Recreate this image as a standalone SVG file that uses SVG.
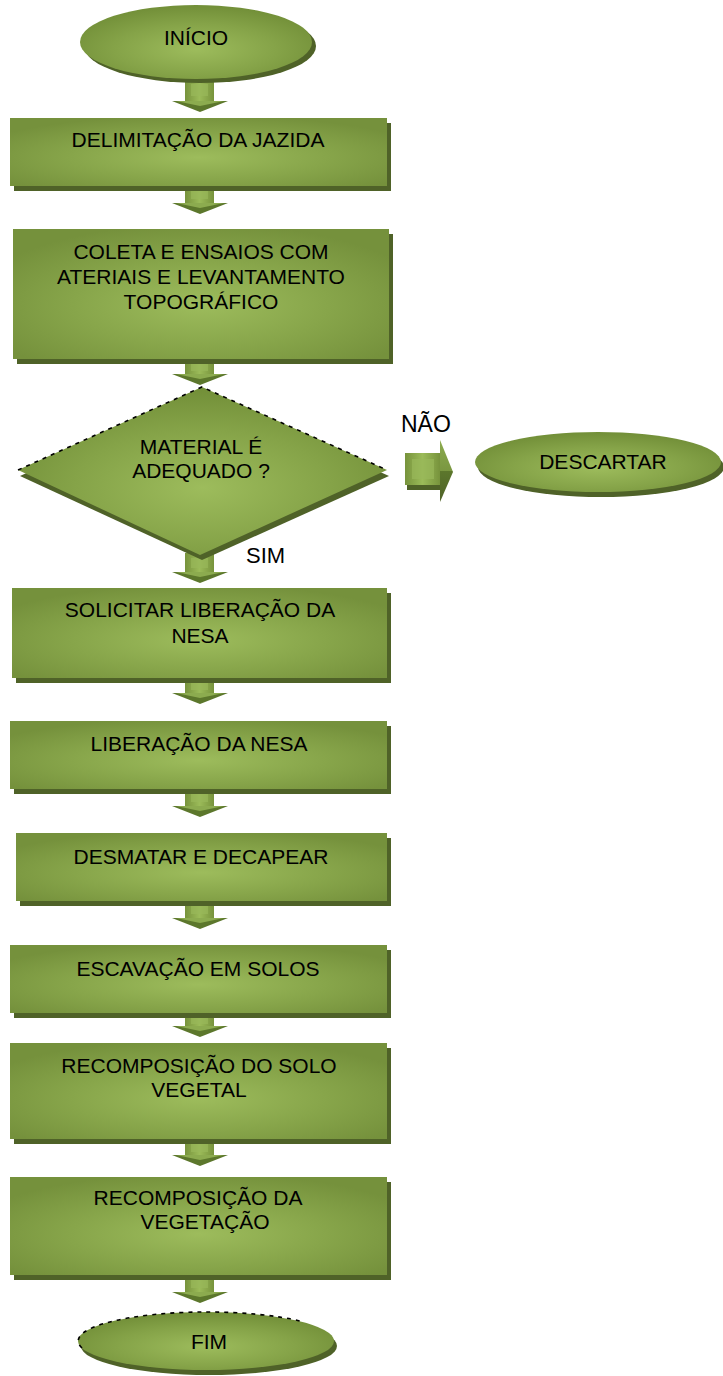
<svg xmlns="http://www.w3.org/2000/svg" width="723" height="1376" viewBox="0 0 723 1376">
<style>
text{font-family:"Liberation Sans",Arial,sans-serif;font-size:21px;fill:#000;text-anchor:middle}
.sh{fill:#4f6228}
.box{fill:url(#gBox)}
.ell{fill:url(#gEll)}
.stem{fill:url(#gStem)}
.hin{fill:#98b85a;opacity:.7}
.headD{fill:#5c772c}
.headL{fill:#8cab4f}
.dash{fill:none;stroke:#000;stroke-width:1.6;stroke-dasharray:4 5}
.lbl{text-anchor:start;font-size:23px}
</style>
<defs>
<radialGradient id="gBox" cx="50%" cy="58%" r="62%">
<stop offset="0" stop-color="#9dbc5c"/>
<stop offset="0.55" stop-color="#87a54a"/>
<stop offset="1" stop-color="#75913c"/>
</radialGradient>
<radialGradient id="gEll" cx="50%" cy="60%" r="58%">
<stop offset="0" stop-color="#9dbc5c"/>
<stop offset="0.6" stop-color="#85a348"/>
<stop offset="1" stop-color="#739039"/>
</radialGradient>
<linearGradient id="gStem" x1="0" y1="0" x2="1" y2="0">
<stop offset="0" stop-color="#77933c"/>
<stop offset="0.5" stop-color="#9bbb59"/>
<stop offset="1" stop-color="#77933c"/>
</linearGradient>
<linearGradient id="gHeadR" x1="0" y1="0" x2="0" y2="1">
<stop offset="0" stop-color="#8cab4f"/>
<stop offset="0.5" stop-color="#7a9740"/>
<stop offset="0.5" stop-color="#5c772c"/>
<stop offset="1" stop-color="#4f6228"/>
</linearGradient>
</defs>

<g id="connectors">
<g id="a1"><rect class="stem" x="185" y="80" width="29" height="21"/><rect class="hin" x="191" y="84" width="17" height="12"/><polygon class="headD" points="172,101 228,101 200,112"/><polygon class="headL" points="176,101 224,101 200,106"/></g>
<g id="a2"><rect class="stem" x="185" y="186" width="29" height="17"/><rect class="hin" x="191" y="190" width="17" height="9"/><polygon class="headD" points="172,203 228,203 200,214"/><polygon class="headL" points="176,203 224,203 200,208"/></g>
<g id="a3"><rect class="stem" x="185" y="359" width="29" height="15"/><rect class="hin" x="191" y="362" width="17" height="9"/><polygon class="headD" points="172,374 228,374 200,385"/><polygon class="headL" points="176,374 224,374 200,379"/></g>
<g id="a4"><rect class="stem" x="185" y="553" width="29" height="19"/><rect class="hin" x="191" y="558" width="17" height="10"/><polygon class="headD" points="172,572 228,572 200,583"/><polygon class="headL" points="176,572 224,572 200,577"/></g>
<g id="a5"><rect class="stem" x="185" y="678" width="29" height="15"/><rect class="hin" x="191" y="682" width="17" height="8"/><polygon class="headD" points="172,693 228,693 200,704"/><polygon class="headL" points="176,693 224,693 200,698"/></g>
<g id="a6"><rect class="stem" x="185" y="789" width="29" height="17"/><rect class="hin" x="191" y="793" width="17" height="9"/><polygon class="headD" points="172,806 228,806 200,817"/><polygon class="headL" points="176,806 224,806 200,811"/></g>
<g id="a7"><rect class="stem" x="185" y="901" width="29" height="17"/><rect class="hin" x="191" y="905" width="17" height="9"/><polygon class="headD" points="172,918 228,918 200,929"/><polygon class="headL" points="176,918 224,918 200,923"/></g>
<g id="a8"><rect class="stem" x="185" y="1013" width="29" height="13"/><rect class="hin" x="191" y="1017" width="17" height="7"/><polygon class="headD" points="172,1026 228,1026 200,1037"/><polygon class="headL" points="176,1026 224,1026 200,1031"/></g>
<g id="a9"><rect class="stem" x="185" y="1139" width="29" height="16"/><rect class="hin" x="191" y="1143" width="17" height="9"/><polygon class="headD" points="172,1155 228,1155 200,1166"/><polygon class="headL" points="176,1155 224,1155 200,1160"/></g>
<g id="a10"><rect class="stem" x="185" y="1275" width="29" height="17"/><rect class="hin" x="191" y="1279" width="17" height="9"/><polygon class="headD" points="172,1292 228,1292 200,1303"/><polygon class="headL" points="176,1292 224,1292 200,1297"/></g>
<g id="a-nao"><rect class="sh" x="407" y="458" width="34" height="32"/><rect class="stem" x="405" y="453" width="35" height="32"/><rect class="hin" x="412" y="459" width="22" height="20"/><polygon fill="url(#gHeadR)" points="440,440 453,472 440,502"/></g>
<text class="lbl" x="401" y="432">NÃO</text>
<text class="lbl" x="246" y="563" style="font-size:22px">SIM</text>
</g>

<g id="n-inicio">
<ellipse class="sh" cx="200" cy="46" rx="116" ry="37"/>
<ellipse class="ell" cx="196" cy="42" rx="116" ry="37"/>
<text x="196" y="45">INÍCIO</text>
</g>

<g id="n-delimitacao">
<rect class="sh" x="14" y="123" width="377" height="68"/>
<rect class="box" x="10" y="118" width="377" height="68"/>
<text x="198" y="147">DELIMITAÇÃO DA JAZIDA</text>
</g>

<g id="n-coleta">
<rect class="sh" x="17" y="234" width="376" height="130"/>
<rect class="box" x="13" y="229" width="376" height="130"/>
<text x="201" y="259">COLETA E ENSAIOS COM</text>
<text x="201" y="284">ATERIAIS E LEVANTAMENTO</text>
<text x="201" y="309">TOPOGRÁFICO</text>
</g>

<g id="n-material">
<polygon class="sh" points="204,392 389,476 202,560 20,476"/>
<polygon fill="url(#gEll)" points="202,387 387,470 200,555 18,470"/>
<polyline class="dash" points="18,470 202,387 387,470"/>
<text x="201" y="454">MATERIAL É</text>
<text x="201" y="478">ADEQUADO ?</text>
</g>

<g id="n-descartar">
<ellipse class="sh" cx="601" cy="467" rx="123" ry="30"/>
<ellipse class="ell" cx="598" cy="462" rx="123" ry="30"/>
<text x="603" y="469">DESCARTAR</text>
</g>

<g id="n-solicitar">
<rect class="sh" x="16" y="593" width="375" height="90"/>
<rect class="box" x="12" y="588" width="375" height="90"/>
<text x="200" y="617">SOLICITAR LIBERAÇÃO DA</text>
<text x="200" y="643">NESA</text>
</g>

<g id="n-liberacao">
<rect class="sh" x="14" y="726" width="377" height="68"/>
<rect class="box" x="10" y="721" width="377" height="68"/>
<text x="199" y="751">LIBERAÇÃO DA NESA</text>
</g>

<g id="n-desmatar">
<rect class="sh" x="20" y="838" width="371" height="68"/>
<rect class="box" x="16" y="833" width="371" height="68"/>
<text x="201" y="864">DESMATAR E DECAPEAR</text>
</g>

<g id="n-escavacao">
<rect class="sh" x="14" y="950" width="377" height="68"/>
<rect class="box" x="10" y="945" width="377" height="68"/>
<text x="198" y="976">ESCAVAÇÃO EM SOLOS</text>
</g>

<g id="n-recomp-solo">
<rect class="sh" x="14" y="1048" width="377" height="96"/>
<rect class="box" x="10" y="1043" width="377" height="96"/>
<text x="199" y="1073">RECOMPOSIÇÃO DO SOLO</text>
<text x="199" y="1097">VEGETAL</text>
</g>

<g id="n-recomp-veg">
<rect class="sh" x="14" y="1182" width="377" height="98"/>
<rect class="box" x="10" y="1177" width="377" height="98"/>
<text x="198" y="1205">RECOMPOSIÇÃO DA</text>
<text x="205" y="1229">VEGETAÇÃO</text>
</g>

<g id="n-fim">
<ellipse class="sh" cx="209" cy="1346" rx="128" ry="29"/>
<ellipse class="ell" cx="206" cy="1341" rx="128" ry="29"/>
<path class="dash" d="M82,1348 A128,29 0 0 1 206,1312 A128,29 0 0 1 300,1321"/>
<text x="209" y="1349">FIM</text>
</g>
</svg>
